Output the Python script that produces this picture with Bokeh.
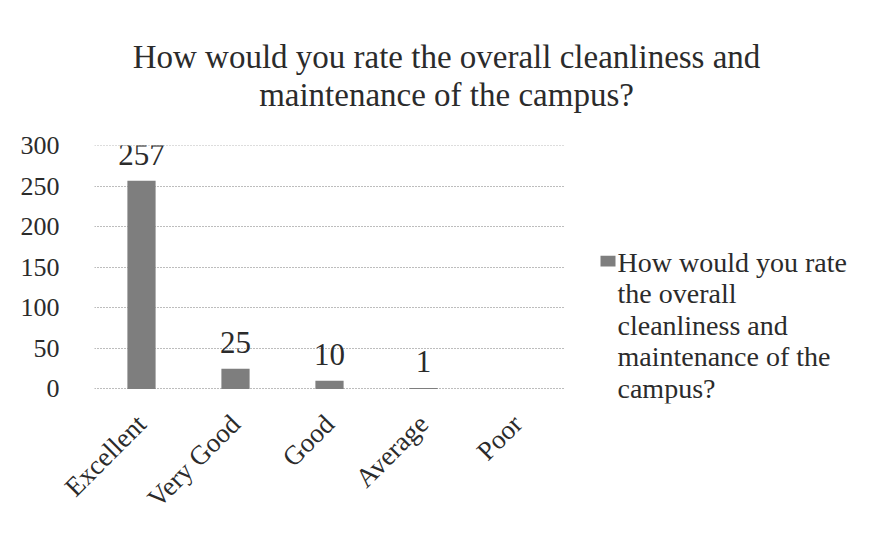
from math import pi
from bokeh.plotting import figure
from bokeh.layouts import column, row
from bokeh.models import ColumnDataSource, LabelSet, FixedTicker, Range1d
from bokeh.core.properties import value
from bokeh.embed import file_html
from bokeh.resources import INLINE

categories = ["Excellent", "Very Good", "Good", "Average", "Poor"]
counts = [257, 25, 10, 1, 0]
value_labels = ["257", "25", "10", "1", ""]
y_ticks = [0, 50, 100, 150, 200, 250, 300]
title_lines = ["How would you rate the overall cleanliness and",
               "maintenance of the campus?"]
legend_lines = ["How would you rate", "the overall", "cleanliness and",
                "maintenance of the", "campus?"]

FONT = "Liberation Serif"
TXT = "#2b2b2b"
BAR = "#7e7e7e"

W, H = 856, 526
TITLE_H = 127
CHART_W = 564
LEG_W = W - CHART_W
ROW_H = H - TITLE_H
TOP_B, BOT_B = 18, 111
FRAME_H = ROW_H - TOP_B - BOT_B


def blank_fig(w, h, **kw):
    f = figure(width=w, height=h, output_backend="svg", toolbar_location=None,
               tools="", **kw)
    f.axis.visible = False
    f.grid.visible = False
    f.outline_line_color = None
    f.background_fill_color = "white"
    f.border_fill_color = "white"
    return f


# ---- title strip ----
tf = blank_fig(W, TITLE_H, x_range=Range1d(0, W), y_range=Range1d(TITLE_H, 0),
               min_border=0)
tf.text(x=[446, 446], y=[56, 94], text=title_lines, text_align="center",
        text_baseline="alphabetic", text_font=value(FONT),
        text_font_size="33px", text_color=TXT)

# ---- chart ----
src = ColumnDataSource(dict(cat=categories, val=counts, lab=value_labels))
p = figure(width=CHART_W, height=ROW_H, x_range=categories,
           y_range=Range1d(-18, 300.6),
           output_backend="svg", toolbar_location=None, tools="",
           min_border_left=94, min_border_right=0,
           min_border_top=TOP_B, min_border_bottom=BOT_B)
p.outline_line_color = None
p.background_fill_color = "white"
p.border_fill_color = "white"

p.vbar(x="cat", top="val", width=0.30, source=src,
       fill_color=BAR, line_color=None)

p.yaxis.ticker = FixedTicker(ticks=y_ticks)
p.yaxis.axis_line_color = None
p.yaxis.major_tick_line_color = None
p.yaxis.minor_tick_line_color = None
p.yaxis.major_label_standoff = 29
p.yaxis.major_label_text_font = FONT
p.yaxis.major_label_text_font_size = "26px"
p.yaxis.major_label_text_color = TXT

p.xaxis.axis_line_color = None
p.xaxis.major_tick_line_color = None
p.xaxis.major_label_orientation = pi / 4
p.xaxis.major_label_standoff = 10
p.xaxis.major_label_text_font = FONT
p.xaxis.major_label_text_font_size = "27px"
p.xaxis.major_label_text_color = TXT

p.xgrid.grid_line_color = None
p.ygrid.grid_line_color = "#7a7a7a"
p.ygrid.grid_line_dash = "1 2"
p.ygrid.grid_line_width = 1

p.add_layout(LabelSet(x="cat", y="val", text="lab", source=src, y_offset=16,
                      text_align="center", text_baseline="alphabetic",
                      text_font=FONT, text_font_size="31px", text_color=TXT))

# ---- legend panel (frame aligned with the chart frame) ----
lf = blank_fig(LEG_W, ROW_H, x_range=Range1d(0, LEG_W), y_range=Range1d(FRAME_H, 0),
               min_border_left=0, min_border_right=0,
               min_border_top=TOP_B, min_border_bottom=BOT_B)
lf.rect(x=[43.5], y=[121], width=15, height=11, fill_color=BAR, line_color=None)
pitch = 33
lf.text(x=[53] * len(legend_lines),
        y=[122 + i * pitch for i in range(len(legend_lines))],
        text=legend_lines, text_align="left", text_baseline="alphabetic",
        text_font=value(FONT), text_font_size="28px", text_color=TXT)

layout = column(tf, row(p, lf, spacing=0), spacing=0)
open("out.html", "w").write(file_html(layout, INLINE))
